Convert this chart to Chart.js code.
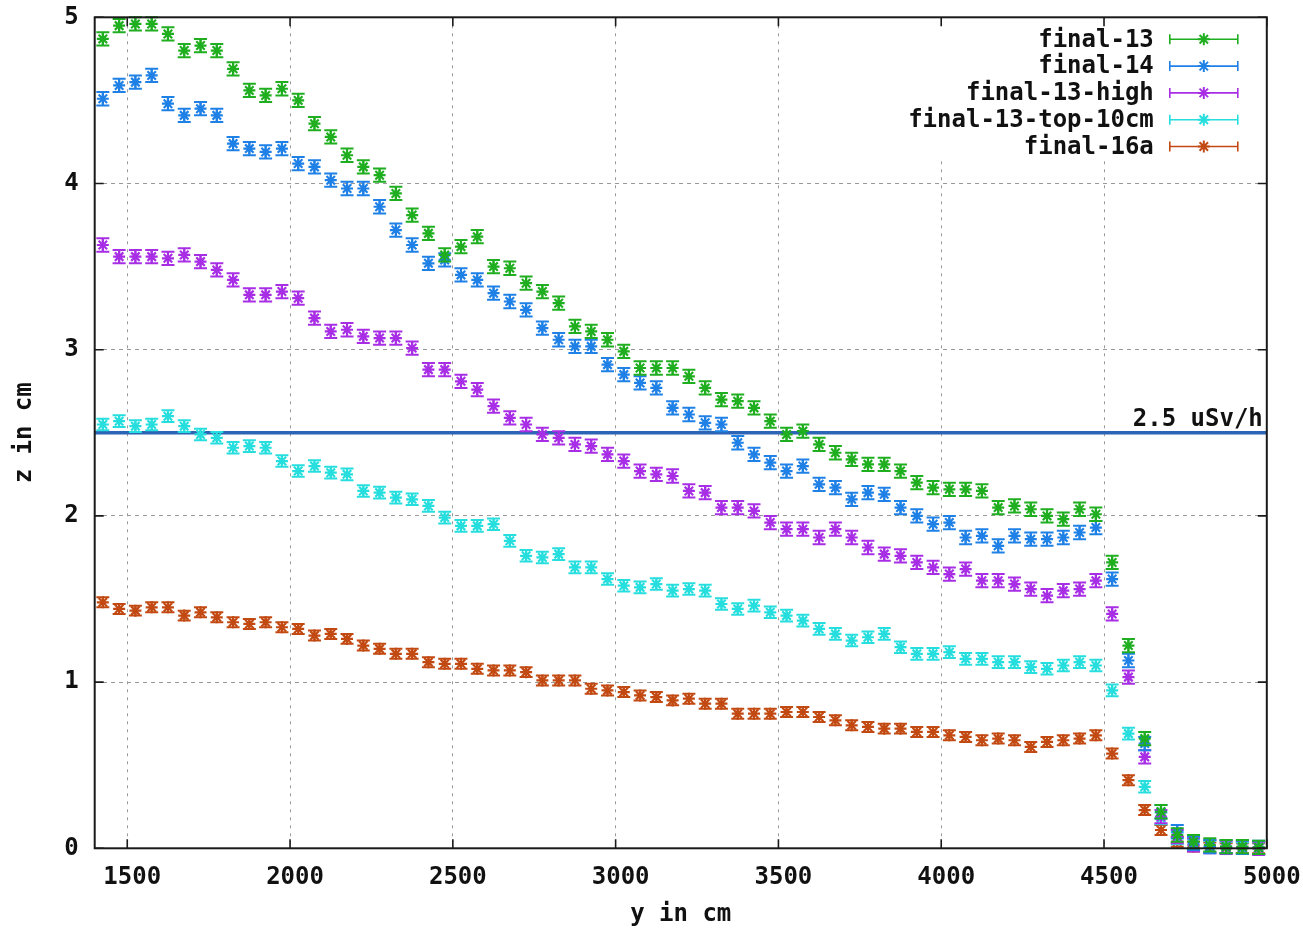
<!DOCTYPE html>
<html>
<head>
<meta charset="utf-8">
<title>z in cm vs y in cm</title>
<script src="https://cdn.jsdelivr.net/npm/chart.js@4.4.1/dist/chart.umd.min.js"></script>
<style>
  html, body { margin: 0; padding: 0; background: #ffffff; }
  canvas { display: block; }
</style>
</head>
<body>
<canvas id="chart" width="1303" height="929"></canvas>
<script>
// ---- data -------------------------------------------------------------
const yPositionsCm = [
  1425, 1475, 1525, 1575, 1625, 1675, 1725, 1775, 1825, 1875,
  1925, 1975, 2025, 2075, 2125, 2175, 2225, 2275, 2325, 2375,
  2425, 2475, 2525, 2575, 2625, 2675, 2725, 2775, 2825, 2875,
  2925, 2975, 3025, 3075, 3125, 3175, 3225, 3275, 3325, 3375,
  3425, 3475, 3525, 3575, 3625, 3675, 3725, 3775, 3825, 3875,
  3925, 3975, 4025, 4075, 4125, 4175, 4225, 4275, 4325, 4375,
  4425, 4475, 4525, 4575, 4625, 4675, 4725, 4775, 4825, 4875,
  4925, 4975
];

const final13 = [
  4.87, 4.95, 4.96, 4.96, 4.90, 4.80, 4.83, 4.80, 4.69, 4.56,
  4.53, 4.57, 4.50, 4.36, 4.28, 4.17, 4.10, 4.05, 3.94, 3.81,
  3.70, 3.57, 3.62, 3.68, 3.50, 3.49, 3.40, 3.35, 3.28, 3.14,
  3.11, 3.06, 2.99, 2.89, 2.89, 2.89, 2.84, 2.77, 2.70, 2.69,
  2.65, 2.57, 2.49, 2.51, 2.43, 2.38, 2.34, 2.31, 2.31, 2.27,
  2.20, 2.17, 2.16, 2.16, 2.15, 2.05, 2.06, 2.04, 2.00, 1.98,
  2.04, 2.01, 1.72, 1.22, 0.66, 0.22, 0.08, 0.04, 0.02, 0.01,
  0.01, 0.005
];

const final14 = [
  4.51, 4.59, 4.61, 4.65, 4.48, 4.41, 4.45, 4.41, 4.24, 4.21,
  4.19, 4.21, 4.12, 4.10, 4.02, 3.97, 3.97, 3.86, 3.72, 3.63,
  3.52, 3.54, 3.45, 3.42, 3.34, 3.29, 3.24, 3.13, 3.06, 3.02,
  3.02, 2.91, 2.85, 2.80, 2.77, 2.65, 2.61, 2.56, 2.55, 2.44,
  2.37, 2.32, 2.27, 2.30, 2.19, 2.17, 2.10, 2.14, 2.13, 2.05,
  2.00, 1.95, 1.96, 1.87, 1.88, 1.82, 1.88, 1.86, 1.86, 1.87,
  1.90, 1.93, 1.62, 1.13, 0.63, 0.22, 0.10, 0.03, 0.01, 0.01,
  0.005, 0.005
];

const final13High = [
  3.63, 3.56, 3.56, 3.56, 3.55, 3.57, 3.53, 3.48, 3.42, 3.33,
  3.33, 3.35, 3.31, 3.19, 3.11, 3.12, 3.08, 3.07, 3.07, 3.01,
  2.88, 2.88, 2.81, 2.76, 2.66, 2.59, 2.55, 2.49, 2.47, 2.43,
  2.42, 2.37, 2.33, 2.27, 2.25, 2.24, 2.15, 2.14, 2.05, 2.05,
  2.03, 1.96, 1.92, 1.92, 1.87, 1.92, 1.87, 1.81, 1.77, 1.76,
  1.72, 1.69, 1.65, 1.68, 1.61, 1.61, 1.59, 1.56, 1.52, 1.55,
  1.56, 1.61, 1.41, 1.03, 0.55, 0.19, 0.07, 0.02, 0.01, 0.005,
  0.005, 0.0
];

const final13Top10cm = [
  2.55, 2.57, 2.54, 2.55, 2.60, 2.54, 2.49, 2.47, 2.41, 2.42,
  2.41, 2.33, 2.27, 2.30, 2.26, 2.25, 2.15, 2.14, 2.11, 2.10,
  2.06, 1.99, 1.94, 1.94, 1.95, 1.85, 1.76, 1.75, 1.77, 1.69,
  1.69, 1.62, 1.58, 1.57, 1.59, 1.55, 1.56, 1.55, 1.47, 1.44,
  1.46, 1.42, 1.40, 1.37, 1.32, 1.29, 1.25, 1.27, 1.29, 1.21,
  1.17, 1.17, 1.18, 1.14, 1.14, 1.12, 1.12, 1.09, 1.08, 1.10,
  1.12, 1.10, 0.95, 0.69, 0.37, 0.18, 0.06, 0.02, 0.01, 0.005,
  0.0, 0.0
];

const final16a = [
  1.48, 1.44, 1.43, 1.45, 1.45, 1.40, 1.42, 1.39, 1.36, 1.35,
  1.36, 1.33, 1.32, 1.28, 1.29, 1.26, 1.22, 1.20, 1.17, 1.17,
  1.12, 1.11, 1.11, 1.08, 1.07, 1.07, 1.06, 1.01, 1.01, 1.01,
  0.96, 0.95, 0.94, 0.92, 0.91, 0.89, 0.90, 0.87, 0.87, 0.81,
  0.81, 0.81, 0.82, 0.82, 0.79, 0.77, 0.74, 0.73, 0.72, 0.72,
  0.70, 0.70, 0.68, 0.67, 0.65, 0.66, 0.65, 0.61, 0.64, 0.65,
  0.66, 0.68, 0.57, 0.41, 0.23, 0.11, 0.04, 0.01, 0.005, 0.0,
  0.0, 0.0
];

// half-width of the vertical error bar of each series (z in cm)
const errorHalfWidth = [0.04, 0.04, 0.04, 0.035, 0.03];

const seriesNames = ['final-13', 'final-14', 'final-13-high', 'final-13-top-10cm', 'final-16a'];
const seriesValues = [final13, final14, final13High, final13Top10cm, final16a];

const xTickValues = [1500, 2000, 2500, 3000, 3500, 4000, 4500, 5000];
const zTickValues = [0, 1, 2, 3, 4, 5];

const doseLimitZ = 2.5;
const doseLimitLabel = '2.5 uSv/h';

// ---- styling ----------------------------------------------------------
const seriesColors = ['#1fae1f', '#1f80e6', '#a82ee6', '#27dede', '#c24a12'];
const limitColor = '#2d65b6';
const FONT_FAMILY = '"DejaVu Sans Mono", "Liberation Mono", monospace';
const axisFont = { family: FONT_FAMILY, size: 24, weight: 'bold' };
const fontCss = 'bold 24px ' + FONT_FAMILY;

function strokeStar(ctx, x, y, r) {
  const d = r * Math.SQRT1_2;
  ctx.beginPath();
  ctx.moveTo(x - r, y); ctx.lineTo(x + r, y);
  ctx.moveTo(x, y - r); ctx.lineTo(x, y + r);
  ctx.moveTo(x - d, y - d); ctx.lineTo(x + d, y + d);
  ctx.moveTo(x - d, y + d); ctx.lineTo(x + d, y - d);
  ctx.stroke();
}

// ---- datasets ---------------------------------------------------------
const datasets = seriesValues.map((vals, i) => ({
  label: seriesNames[i],
  data: yPositionsCm.map((x, k) => ({ x: x, y: vals[k] })),
  errHalf: errorHalfWidth[i],
  showLine: false,
  pointStyle: 'star',
  pointRadius: 6,
  pointBorderWidth: 2.2,
  pointBorderColor: seriesColors[i],
  pointBackgroundColor: seriesColors[i],
  borderColor: seriesColors[i],
  backgroundColor: seriesColors[i],
  clip: 10,
  order: 1
}));

datasets.push({
  label: doseLimitLabel,
  type: 'line',
  data: [{ x: 1400, y: doseLimitZ }, { x: 5000, y: doseLimitZ }],
  borderColor: limitColor,
  borderWidth: 3.5,
  pointRadius: 0,
  fill: false,
  isLimit: true,
  order: 5
});

// ---- plugins ----------------------------------------------------------
// white key box, frame and inward tick marks, error bars, key and limit label
const gnuplotStyle = {
  id: 'gnuplotStyle',
  beforeDatasetsDraw(chart) {
    const { ctx, chartArea: a } = chart;
    ctx.save();
    ctx.fillStyle = '#ffffff';
    ctx.fillRect(a.right - 370, a.top + 2, 366, 139);
    ctx.restore();
  },
  afterDatasetDraw(chart, args) {
    const ds = chart.data.datasets[args.index];
    if (!ds.errHalf) return;
    const { ctx } = chart;
    const xs = chart.scales.x, ys = chart.scales.y;
    const cap = 6.5;
    ctx.save();
    ctx.strokeStyle = ds.borderColor;
    ctx.lineWidth = 2;
    ctx.beginPath();
    ds.data.forEach(p => {
      const px = xs.getPixelForValue(p.x);
      const top = ys.getPixelForValue(p.y + ds.errHalf);
      const bot = ys.getPixelForValue(p.y - ds.errHalf);
      ctx.moveTo(px, top); ctx.lineTo(px, bot);
      ctx.moveTo(px - cap, top); ctx.lineTo(px + cap, top);
      ctx.moveTo(px - cap, bot); ctx.lineTo(px + cap, bot);
    });
    ctx.stroke();
    ctx.restore();
  },
  afterDatasetsDraw(chart) {
    const { ctx, chartArea: a } = chart;
    const xs = chart.scales.x, ys = chart.scales.y;
    ctx.save();
    // frame
    ctx.strokeStyle = '#1a1a1a';
    ctx.lineWidth = 2;
    ctx.strokeRect(a.left, a.top, a.right - a.left, a.bottom - a.top);
    // inward ticks on all four sides
    ctx.lineWidth = 1.6;
    ctx.beginPath();
    const tl = 9;
    xTickValues.forEach(v => {
      const px = xs.getPixelForValue(v);
      ctx.moveTo(px, a.bottom); ctx.lineTo(px, a.bottom - tl);
      ctx.moveTo(px, a.top); ctx.lineTo(px, a.top + tl);
    });
    zTickValues.forEach(v => {
      const py = ys.getPixelForValue(v);
      ctx.moveTo(a.left, py); ctx.lineTo(a.left + tl, py);
      ctx.moveTo(a.right, py); ctx.lineTo(a.right - tl, py);
    });
    ctx.stroke();

    // limit label above the horizontal line
    ctx.fillStyle = '#111111';
    ctx.font = fontCss;
    ctx.textAlign = 'right';
    ctx.textBaseline = 'alphabetic';
    ctx.fillText(doseLimitLabel, a.right - 4, ys.getPixelForValue(doseLimitZ) - 7);

    // key
    const textRight = a.right - 113;
    const sampleL = a.right - 97, sampleR = a.right - 29;
    const sampleC = (sampleL + sampleR) / 2;
    seriesNames.forEach((name, i) => {
      const y = a.top + 22 + i * 26.8;
      ctx.fillStyle = '#111111';
      ctx.textAlign = 'right';
      ctx.textBaseline = 'middle';
      ctx.fillText(name, textRight, y + 1);
      ctx.strokeStyle = seriesColors[i];
      ctx.lineWidth = 1.6;
      ctx.beginPath();
      ctx.moveTo(sampleL, y); ctx.lineTo(sampleR, y);
      ctx.moveTo(sampleL, y - 5); ctx.lineTo(sampleL, y + 5);
      ctx.moveTo(sampleR, y - 5); ctx.lineTo(sampleR, y + 5);
      ctx.stroke();
      ctx.lineWidth = 2;
      strokeStar(ctx, sampleC, y, 6);
    });
    ctx.restore();
  }
};

// ---- chart ------------------------------------------------------------
new Chart(document.getElementById('chart'), {
  type: 'scatter',
  data: { datasets: datasets },
  plugins: [gnuplotStyle],
  options: {
    responsive: false,
    animation: false,
    devicePixelRatio: 1,
    events: [],
    layout: { padding: { left: 0, top: 17.3, right: 36.2, bottom: 0 } },
    plugins: {
      legend: { display: false },
      tooltip: { enabled: false }
    },
    scales: {
      x: {
        type: 'linear',
        position: 'bottom',
        min: 1400,
        max: 5000,
        afterBuildTicks: s => { s.ticks = xTickValues.map(v => ({ value: v })); },
        afterFit: s => {
          s.height = 80.7;
          s.paddingLeft = 0;
          s.paddingRight = 0;
        },
        ticks: {
          font: axisFont,
          color: '#111111',
          padding: 15,
          labelOffset: 5,
          maxRotation: 0,
          autoSkip: false,
          callback: v => String(v)
        },
        grid: { color: '#9a9a9a', lineWidth: 1, drawTicks: false },
        border: { display: false, dash: [3, 5] },
        title: {
          display: true,
          text: 'y in cm',
          font: axisFont,
          color: '#111111',
          padding: { top: 0, bottom: 0 }
        }
      },
      y: {
        type: 'linear',
        position: 'left',
        min: 0,
        max: 5,
        afterBuildTicks: s => { s.ticks = zTickValues.map(v => ({ value: v })); },
        afterFit: s => {
          s.width = 94.7;
          s.paddingTop = 0;
          s.paddingBottom = 0;
        },
        ticks: {
          font: axisFont,
          color: '#111111',
          padding: 16,
          callback: v => String(v)
        },
        grid: { color: '#9a9a9a', lineWidth: 1, drawTicks: false },
        border: { display: false, dash: [4, 4] },
        title: {
          display: true,
          text: 'z in cm',
          font: axisFont,
          color: '#111111',
          padding: { top: 10, bottom: 0 }
        }
      }
    }
  }
});
</script>
</body>
</html>
